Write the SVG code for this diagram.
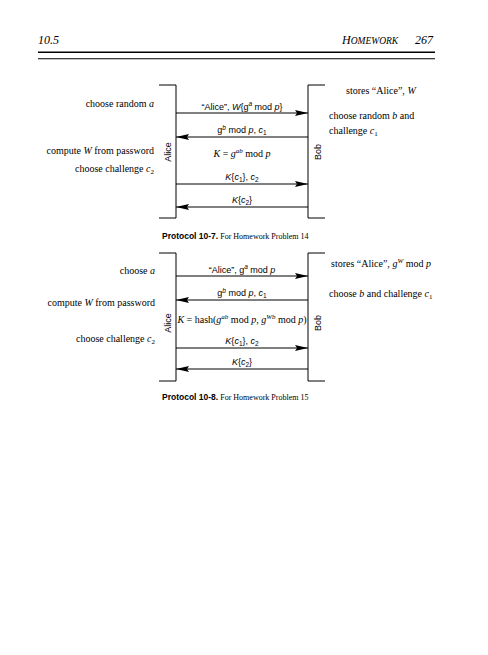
<svg xmlns="http://www.w3.org/2000/svg" width="488" height="655" viewBox="0 0 488 655">
<style>
.bg{fill:#fff}
.ser{font-family:"Liberation Serif","Times New Roman",serif;font-size:10px;fill:#000}
.sans{font-family:"Liberation Sans",Arial,sans-serif;font-size:9px;fill:#000}
.hdr{font-family:"Liberation Serif","Times New Roman",serif;font-style:italic;font-size:12px;fill:#000}
.capb{font-family:"Liberation Sans",Arial,sans-serif;font-weight:bold;font-size:8.5px;fill:#000}
.capr{font-family:"Liberation Serif","Times New Roman",serif;font-size:8px;fill:#000}
.i{font-style:italic}
.ln{stroke:#000;stroke-width:1;fill:none}
.br{stroke:#000;stroke-width:1;fill:none}
</style>
<defs>
<marker id="ah" viewBox="0 0 13 6" refX="13" refY="3" markerWidth="13" markerHeight="6" orient="auto" markerUnits="userSpaceOnUse">
<path d="M0,0 L13,3 L0,6 L2,3 z" fill="#000"/>
</marker>
</defs>
<rect class="bg" x="0" y="0" width="488" height="655"/>
<g id="header">
<text class="hdr" x="38" y="44">10.5</text>
<text class="hdr" x="342" y="44">H<tspan font-size="9.5">OMEWORK</tspan></text>
<text class="hdr" x="433" y="44" text-anchor="end">267</text>
<line x1="38" y1="52.3" x2="435" y2="52.3" stroke="#000" stroke-width="1.4"/>
<line x1="38" y1="58.7" x2="435" y2="58.7" stroke="#000" stroke-width="1.1"/>
</g>
<g id="protocol-10-7">
<g id="p1-alice">
<path class="br" d="M159,85 H176 V218 H159"/>
<text class="sans" transform="translate(171,152) rotate(-90)" text-anchor="middle">Alice</text>
</g>
<g id="p1-bob">
<path class="br" d="M325,85 H308 V218 H325"/>
<text class="sans" transform="translate(321,152) rotate(-90)" text-anchor="middle">Bob</text>
</g>
<g id="p1-alice-notes">
<text class="ser" x="154" y="107" text-anchor="end">choose random <tspan class="i">a</tspan></text>
<text class="ser" x="154" y="154" text-anchor="end">compute <tspan class="i">W</tspan> from password</text>
<text class="ser" x="154" y="172" text-anchor="end">choose challenge <tspan class="i">c</tspan><tspan font-size="7" dy="2">2</tspan></text>
</g>
<g id="p1-bob-notes">
<text class="ser" x="346" y="94">stores “Alice”, <tspan class="i">W</tspan></text>
<text class="ser" x="329" y="119">choose random <tspan class="i">b</tspan> and</text>
<text class="ser" x="329" y="134">challenge <tspan class="i">c</tspan><tspan font-size="7" dy="2">1</tspan></text>
</g>
<g id="p1-shared">
<text class="ser" x="242" y="157" text-anchor="middle"><tspan class="i">K</tspan> = <tspan class="i">g</tspan><tspan class="i" font-size="7" dy="-4">ab</tspan><tspan dy="4"> mod </tspan><tspan class="i">p</tspan></text>
</g>
<g id="p1-connectors">
<line class="ln" x1="176" y1="113" x2="308" y2="113" marker-end="url(#ah)"/>
<line class="ln" x1="308" y1="137" x2="176" y2="137" marker-end="url(#ah)"/>
<line class="ln" x1="176" y1="184" x2="308" y2="184" marker-end="url(#ah)"/>
<line class="ln" x1="308" y1="207" x2="176" y2="207" marker-end="url(#ah)"/>
<text class="sans" x="242" y="109.5" text-anchor="middle">“Alice”, <tspan class="i">W</tspan>{g<tspan class="i" font-size="6.5" dy="-3.5">a</tspan><tspan dy="3.5"> mod </tspan><tspan class="i">p</tspan>}</text>
<text class="sans" x="242" y="133" text-anchor="middle">g<tspan class="i" font-size="6.5" dy="-3.5">b</tspan><tspan dy="3.5"> mod </tspan><tspan class="i">p</tspan>, <tspan class="i">c</tspan><tspan font-size="6.5" dy="2">1</tspan></text>
<text class="sans" x="242" y="179.5" text-anchor="middle"><tspan class="i">K</tspan>{<tspan class="i">c</tspan><tspan font-size="6.5" dy="2">1</tspan><tspan dy="-2">}, </tspan><tspan class="i">c</tspan><tspan font-size="6.5" dy="2">2</tspan></text>
<text class="sans" x="242" y="202.5" text-anchor="middle"><tspan class="i">K</tspan>{<tspan class="i">c</tspan><tspan font-size="6.5" dy="2">2</tspan><tspan dy="-2">}</tspan></text>
</g>
<g id="p1-caption">
<text x="162" y="239"><tspan class="capb">Protocol 10-7.</tspan><tspan class="capr"> For Homework Problem 14</tspan></text>
</g>
</g>
<g id="protocol-10-8">
<g id="p2-alice">
<path class="br" d="M159,253 H176 V381 H159"/>
<text class="sans" transform="translate(171,323) rotate(-90)" text-anchor="middle">Alice</text>
</g>
<g id="p2-bob">
<path class="br" d="M325,253 H308 V381 H325"/>
<text class="sans" transform="translate(321,323) rotate(-90)" text-anchor="middle">Bob</text>
</g>
<g id="p2-alice-notes">
<text class="ser" x="155" y="274" text-anchor="end">choose <tspan class="i">a</tspan></text>
<text class="ser" x="155" y="306" text-anchor="end">compute <tspan class="i">W</tspan> from password</text>
<text class="ser" x="155" y="342" text-anchor="end">choose challenge <tspan class="i">c</tspan><tspan font-size="7" dy="2">2</tspan></text>
</g>
<g id="p2-bob-notes">
<text class="ser" x="331" y="267">stores “Alice”, <tspan class="i">g</tspan><tspan class="i" font-size="7" dy="-4">W</tspan><tspan dy="4"> mod </tspan><tspan class="i">p</tspan></text>
<text class="ser" x="329" y="297">choose <tspan class="i">b</tspan> and challenge <tspan class="i">c</tspan><tspan font-size="7" dy="2">1</tspan></text>
</g>
<g id="p2-shared">
<text class="ser" x="242" y="323" text-anchor="middle"><tspan class="i">K</tspan> = hash(<tspan class="i">g</tspan><tspan class="i" font-size="7" dy="-4">ab</tspan><tspan dy="4"> mod </tspan><tspan class="i">p</tspan>, <tspan class="i">g</tspan><tspan class="i" font-size="7" dy="-4">Wb</tspan><tspan dy="4"> mod </tspan><tspan class="i">p</tspan>)</text>
</g>
<g id="p2-connectors">
<line class="ln" x1="176" y1="276" x2="308" y2="276" marker-end="url(#ah)"/>
<line class="ln" x1="308" y1="300" x2="176" y2="300" marker-end="url(#ah)"/>
<line class="ln" x1="176" y1="348" x2="308" y2="348" marker-end="url(#ah)"/>
<line class="ln" x1="308" y1="369" x2="176" y2="369" marker-end="url(#ah)"/>
<text class="sans" x="242" y="272.5" text-anchor="middle">“Alice”, g<tspan class="i" font-size="6.5" dy="-3.5">a</tspan><tspan dy="3.5"> mod </tspan><tspan class="i">p</tspan></text>
<text class="sans" x="242" y="296" text-anchor="middle">g<tspan class="i" font-size="6.5" dy="-3.5">b</tspan><tspan dy="3.5"> mod </tspan><tspan class="i">p</tspan>, <tspan class="i">c</tspan><tspan font-size="6.5" dy="2">1</tspan></text>
<text class="sans" x="242" y="343.5" text-anchor="middle"><tspan class="i">K</tspan>{<tspan class="i">c</tspan><tspan font-size="6.5" dy="2">1</tspan><tspan dy="-2">}, </tspan><tspan class="i">c</tspan><tspan font-size="6.5" dy="2">2</tspan></text>
<text class="sans" x="242" y="364.5" text-anchor="middle"><tspan class="i">K</tspan>{<tspan class="i">c</tspan><tspan font-size="6.5" dy="2">2</tspan><tspan dy="-2">}</tspan></text>
</g>
<g id="p2-caption">
<text x="162" y="400"><tspan class="capb">Protocol 10-8.</tspan><tspan class="capr"> For Homework Problem 15</tspan></text>
</g>
</g>
</svg>
